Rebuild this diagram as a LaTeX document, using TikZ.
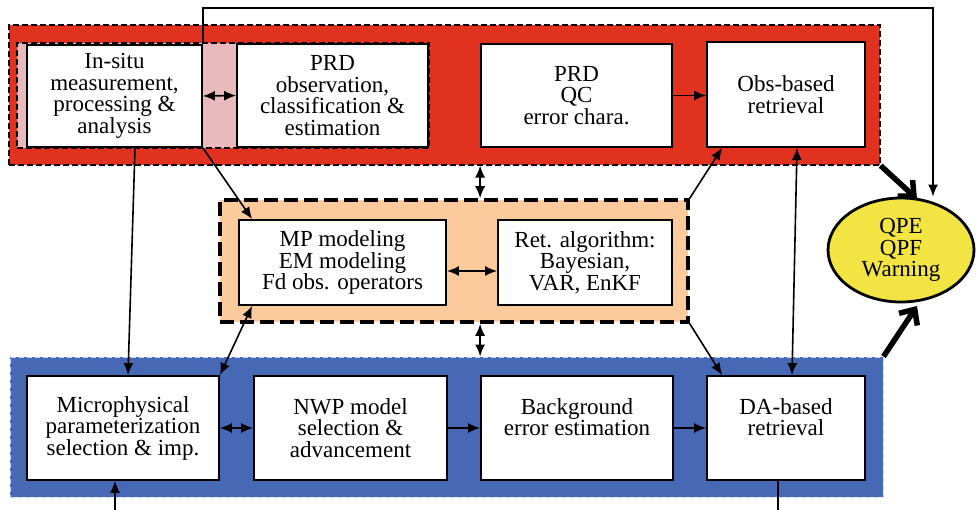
\documentclass[tikz,border=0pt]{standalone}
\usepackage{fontspec}
\setmainfont{Liberation Serif}
\usetikzlibrary{arrows.meta,shapes.geometric,calc}
\definecolor{redbg}{HTML}{E0321F}
\definecolor{pinkbg}{HTML}{E8B9BD}
\definecolor{orangebg}{HTML}{FDCA9B}
\definecolor{bluebg}{HTML}{4668B5}
\definecolor{bluedash}{HTML}{C9D6F0}
\definecolor{yellowbg}{HTML}{F2E443}
\tikzset{
  box/.style={draw=black, fill=white, line width=1.8pt, inner sep=0pt, align=center,
    font=\fontsize{23}{21.5}\selectfont},
  group/.style={inner sep=0pt},
  conn/.style={line width=1.6pt, -{Latex[length=12pt,width=10pt]}},
  dconn/.style={line width=1.6pt, {Latex[length=12pt,width=10pt]}-{Latex[length=12pt,width=10pt]}},
  plain/.style={line width=1.6pt},
  fat/.style={line width=5.5pt, -{Straight Barb[length=12pt,width=22pt,line width=5.5pt]}},
}
\begin{document}
\begin{tikzpicture}[x=1pt,y=-1pt]
\useasboundingbox (0,0) rectangle (976,510);
% containers
\node[group, fill=redbg, draw=black, line width=1.2pt, dash pattern=on 6pt off 3pt,
  minimum width=871pt, minimum height=140pt] (red) at (444.5,95) {};
\node[group, fill=pinkbg, draw=black, line width=1.2pt, dash pattern=on 6pt off 3pt,
  minimum width=412pt, minimum height=105pt] (pink) at (223,95.5) {};
\node[group, fill=orangebg, draw=black, line width=3.5pt, dash pattern=on 14pt off 6pt,
  minimum width=468pt, minimum height=122pt] (orange) at (454,261) {};
\node[group, fill=bluebg, draw=bluedash, line width=1pt, dash pattern=on 5pt off 3pt,
  minimum width=873pt, minimum height=140pt] (blue) at (446.5,427) {};
% top row
\node[box, minimum width=175pt, minimum height=102pt] (insitu) at (114.5,96)
  {In-situ\\measurement,\\processing \&\\analysis};
\node[box, minimum width=191pt, minimum height=103pt] (prdobs) at (332.5,95.5)
  {PRD\\observation,\\classification \&\\estimation};
\node[box, minimum width=191pt, minimum height=103pt] (prdqc) at (576.5,95.5)
  {PRD\\QC\\error chara.};
\node[box, minimum width=158pt, minimum height=105pt] (obs) at (786,94.5)
  {Obs-based\\retrieval};
% middle row
\node[box, minimum width=207pt, minimum height=85pt] (mp) at (342.5,262.5)
  {MP modeling\\EM modeling\\Fd obs. operators};
\node[box, minimum width=174pt, minimum height=85pt] (ret) at (585,262.5)
  {Ret. algorithm:\\Bayesian,\\VAR, EnKF};
% bottom row
\node[box, minimum width=192pt, minimum height=104pt] (micro) at (123,428)
  {Microphysical\\parameterization\\selection \& imp.};
\node[box, minimum width=193pt, minimum height=104pt] (nwp) at (350.5,428)
  {NWP model\\selection \&\\advancement};
\node[box, minimum width=192pt, minimum height=104pt] (bg) at (577,428)
  {Background\\error estimation\\\mbox{}};
\node[box, minimum width=158pt, minimum height=104pt] (da) at (786,428)
  {DA-based\\retrieval\\\mbox{}};
% ellipse
\node[ellipse, draw=black, fill=yellowbg, line width=2.8pt, inner sep=0pt,
  minimum width=146pt, minimum height=104pt, align=center,
  font=\fontsize{23}{21.5}\selectfont] (ell) at (901,250) {QPE\\QPF\\Warning};
% coordinates
\coordinate (tr) at (933,8);
\coordinate (bin) at (115,510);
\coordinate (bout) at (778,510);
\coordinate (ellin1) at (917,199);
\coordinate (ellin2) at (917,306);
% connectors
\draw[dconn] (insitu.east) -- (prdobs.west);
\draw[conn] (prdqc.east) -- (prdqc.east -| obs.west);
\draw[conn] (insitu.north east) |- (tr) -- (tr |- ell.north);
\draw[conn] ([xshift=20.5pt]insitu.south) -- ([xshift=5pt]micro.north);
\draw[conn] (insitu.south east) -- ([xshift=14pt]mp.north west);
\draw[dconn] ([xshift=14pt]mp.south west) -- (micro.north east);
\draw[dconn] ([yshift=-8.5pt]mp.east) -- ([yshift=-8.5pt]ret.west);
\draw[dconn] (red.south -| prdqc.west) -- (orange.north -| prdqc.west);
\draw[dconn] (orange.south -| prdqc.west) -- (blue.north -| prdqc.west);
\draw[conn] (orange.north east) -- ([xshift=16pt]obs.south west);
\draw[dconn] ([xshift=11pt]obs.south) -- ([xshift=6pt]da.north);
\draw[conn] (orange.south east) -- ([xshift=16pt]da.north west);
\draw[dconn] (micro.east) -- (nwp.west);
\draw[conn] (nwp.east) -- (bg.west);
\draw[conn] (bg.east) -- (da.west);
\draw[conn] (bin) -- (bin |- micro.south);
\draw[plain] (da.south -| bout) -- (bout);
\draw[fat] (red.south east) -- (ellin1);
\draw[fat] (blue.north east) -- (ellin2);
\end{tikzpicture}
\end{document}
